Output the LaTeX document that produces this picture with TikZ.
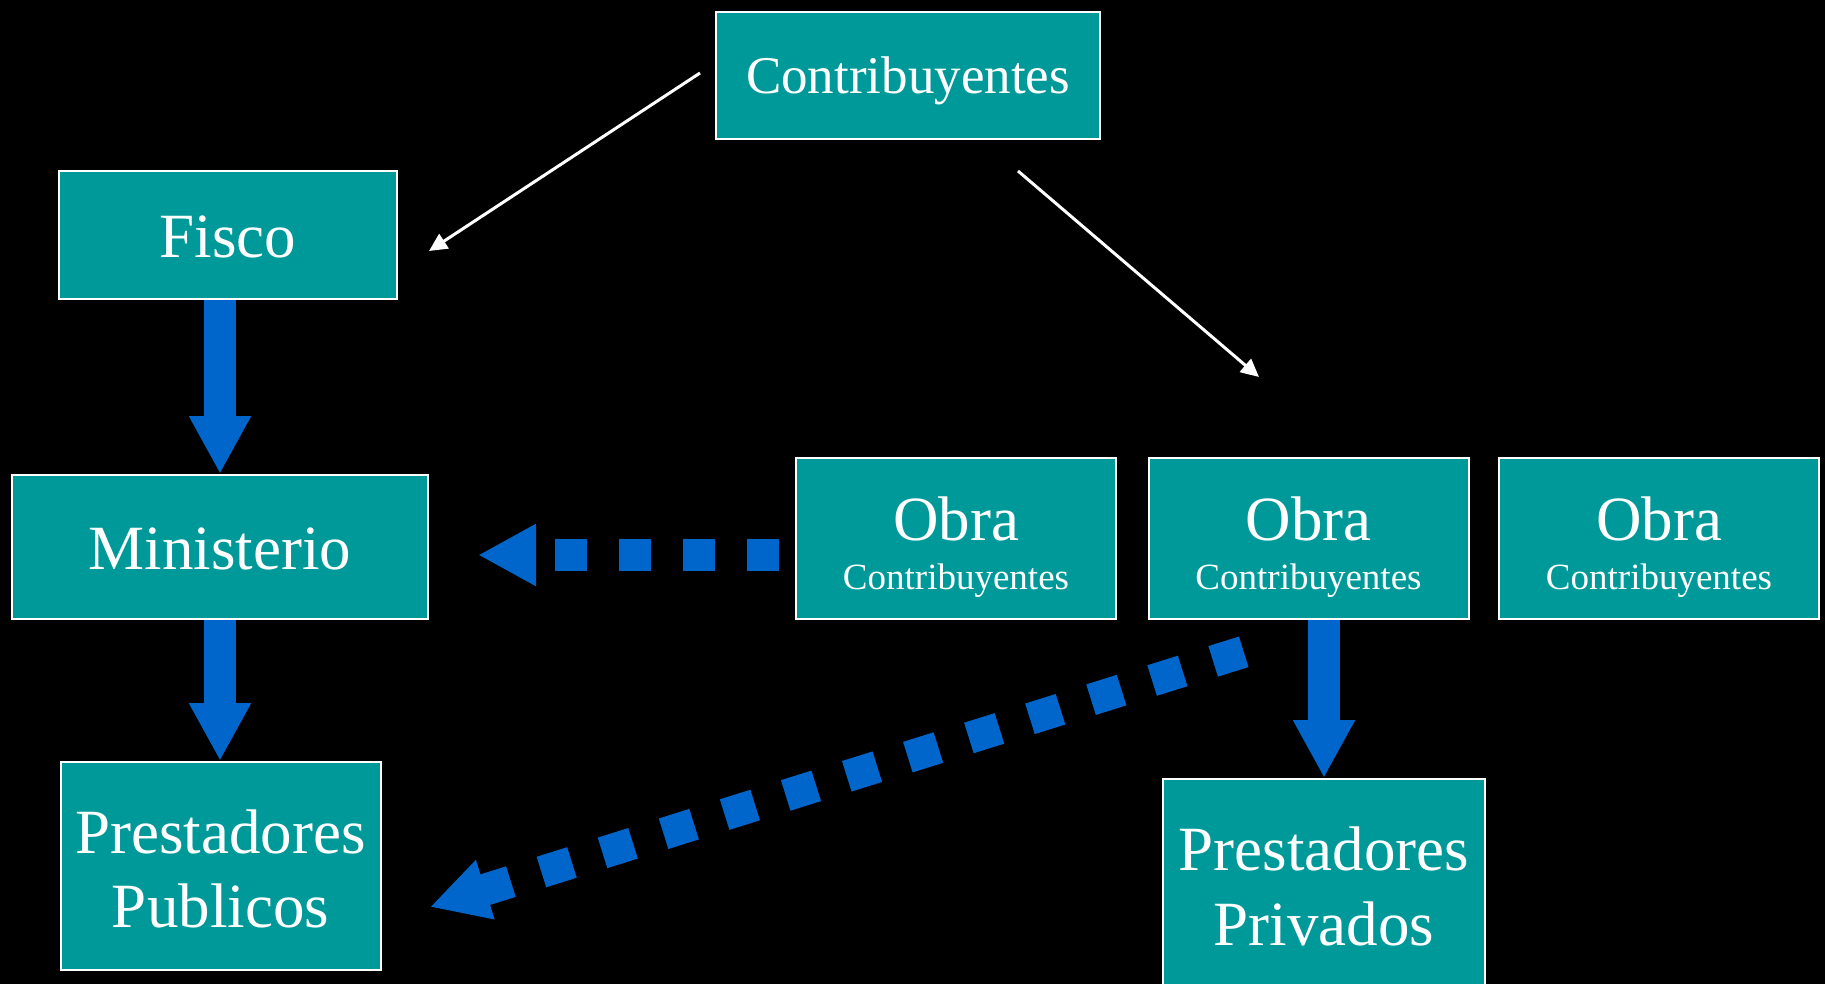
\documentclass[tikz,border=0pt]{standalone}
\usepackage{fontspec}
\setmainfont{Liberation Serif}
\usetikzlibrary{arrows.meta,calc}
\definecolor{boxteal}{HTML}{009999}
\definecolor{arrowblue}{HTML}{0066CC}
\begin{document}
\begin{tikzpicture}[x=0.5pt,y=-0.5pt,
  box/.style={draw=white, line width=1pt, fill=boxteal, inner sep=0pt, text=white, align=center},
  txt/.style={inner sep=0pt, text=white, anchor=base},
  bigfont/.style={font=\fontsize{31.5}{37.5}\selectfont},
  midfont/.style={font=\fontsize{26.5}{30}\selectfont},
  smallfont/.style={font=\fontsize{18.5}{22}\selectfont},
  obrabox/.style={box, minimum width=160pt, minimum height=80.5pt},
  bluearrow/.style={draw=arrowblue, line width=16pt, line cap=butt, -{Triangle[length=29pt,width=29pt,fill=arrowblue]}},
  bluedash/.style={bluearrow, dash pattern=on 16pt off 16pt},
  whitearrow/.style={draw=white, line width=1.5pt, -{Triangle[length=9pt,width=8.5pt,fill=white]}}
]
\fill[black] (0,0) rectangle (1825,984);
\useasboundingbox (0,0) rectangle (1825,984);
\clip (0,0) rectangle (1825,984);

% boxes
\node[box, minimum width=192pt, minimum height=63.5pt] (contrib) at (908,75.5) {};
\node[txt, midfont] (contribt) at ($(contrib.north)+(0,83)$) {Contribuyentes};
\node[box, minimum width=169pt, minimum height=64pt] (fisco) at (228,235) {};
\node[txt, bigfont] (fiscot) at ($(fisco.north)+(0,87)$) {Fisco};
\node[box, minimum width=208pt, minimum height=72pt] (min) at (220,547) {};
\node[txt, bigfont] (mint) at ($(min.north)+(0,95)$) {Ministerio};
\node[box, minimum width=160pt, minimum height=104pt] (pub) at (220.5,866) {};
\node[txt, bigfont] (pub1) at ($(pub.north)+(0,92)$) {Prestadores};
\node[txt, bigfont] (pub2) at ($(pub.north)+(0,166)$) {Publicos};

\node[obrabox] (obra1) at (956,538.5) {};
\node[obrabox] (obra2) at (1308.5,538.5) {};
\node[obrabox] (obra3) at (1659,538.5) {};
\foreach \o in {obra1,obra2,obra3}{
  \node[txt, bigfont] (\o a) at ($(\o.north)+(0,83)$) {Obra};
  \node[txt, smallfont] (\o b) at ($(\o.north)+(0,132)$) {Contribuyentes};
}

\node[box, minimum width=161pt, minimum height=110.5pt] (priv) at (1324,889.5) {};
\node[txt, bigfont] (priv1) at ($(priv.north)+(0,92)$) {Prestadores};
\node[txt, bigfont] (priv2) at ($(priv.north)+(0,167)$) {Privados};

% white arrows
\draw[whitearrow] ($(contrib.west)+(-15,-2.5)$) -- ($(fisco.east)+(31,16)$);
\draw[whitearrow] ($(contrib.south)+(110,31)$) -- ($(obra2.north)+(-49.5,-80)$);

% blue solid arrows
\draw[bluearrow] (fisco.south -| min.north) -- (min.north);
\draw[bluearrow] (min.south) -- (min.south |- pub.north);
\draw[bluearrow] (obra2.south -| priv.north) -- (priv.north);

% blue dashed arrows
\draw[bluedash, dash phase=24pt] ($(obra1.west)+(0,16.5)$) -- ($(min.east)+(49,8)$);
\draw[bluedash] ($(obra2.south)+(-64.8,31.8)$) -- ($(pub.east)+(48.4,41)$);
\end{tikzpicture}
\end{document}
